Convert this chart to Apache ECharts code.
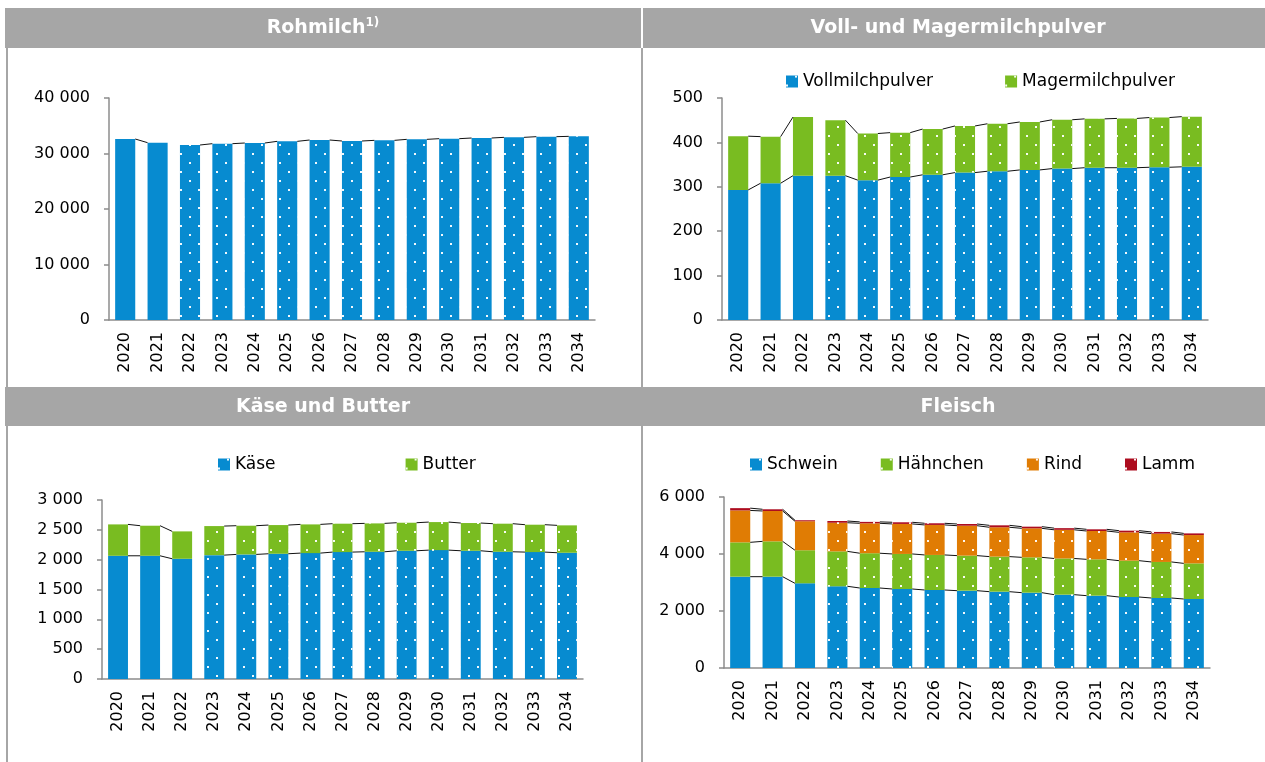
<!DOCTYPE html>
<html>
<head>
<meta charset="utf-8">
<script src="https://cdn.jsdelivr.net/npm/echarts@6/dist/echarts.min.js"></script>
<style>
  html, body { margin: 0; background: #fff; }
  #main { width: 1265px; height: 762px; }
</style>
</head>
<body>
<div id="main"></div>
<script>
// ~~ Data

const years = ['2020', '2021', '2022', '2023', '2024', '2025', '2026', '2027', '2028', '2029', '2030', '2031', '2032', '2033', '2034']

const rohmilch = [32610, 31950, 31530, 31770, 31890, 32190, 32430, 32250, 32370, 32550, 32670, 32790, 32910, 33030, 33090]

const vollmilchpulver = [293, 308, 325, 325, 315, 322, 327, 332, 335, 338, 341, 343, 343, 344, 345]
const magermilchpulver = [121, 105, 132, 125, 105, 100, 103, 105, 107, 108, 110, 110, 111, 112, 113]

const kaese = [2065, 2065, 2015, 2076, 2088, 2099, 2110, 2127, 2132, 2149, 2160, 2149, 2132, 2127, 2116]
const butter = [526, 504, 459, 487, 481, 481, 481, 476, 476, 470, 470, 465, 471, 459, 459]

const schwein = [3204, 3204, 2972, 2867, 2807, 2772, 2737, 2713, 2678, 2643, 2573, 2538, 2491, 2456, 2421]
const haehnchen = [1205, 1240, 1160, 1225, 1220, 1230, 1230, 1230, 1230, 1240, 1270, 1275, 1275, 1265, 1250]
const rind = [1120, 1065, 1017, 1005, 1050, 1053, 1053, 1050, 1030, 1018, 1006, 994, 994, 994, 994]
const lamm = [80, 60, 35, 60, 50, 58, 58, 60, 68, 58, 58, 59, 59, 59, 58]

// ~~ Styles

const BLUE = '#078bd0'
const GREEN = '#79bc21'
const ORANGE = '#e07c04'
const RED = '#ad0c1f'
const AXIS = '#8c8c8c'
const FONT = 'DejaVu Sans'
const BAR_GAP = 0.38

const dots = {
  symbol: 'rect',
  symbolSize: 1,
  color: 'rgba(255,255,255,0.95)',
  dashArrayX: [[2, 16], [0, 9, 2, 7]],
  dashArrayY: [2, 7],
  rotation: 0,
}

const panels = [
  {
    grid: { left: 109, top: 98, width: 486, height: 222 },
    max: 40000,
    interval: 10000,
    proj: 2,
    layers: [{ name: 'Rohmilch', data: rohmilch, color: BLUE }],
  },
  {
    grid: { left: 722, top: 98, width: 486, height: 222 },
    max: 500,
    interval: 100,
    proj: 3,
    legend: { left: 786, top: 73, itemGap: 72 },
    layers: [
      { name: 'Vollmilchpulver', data: vollmilchpulver, color: BLUE },
      { name: 'Magermilchpulver', data: magermilchpulver, color: GREEN },
    ],
  },
  {
    grid: { left: 102, top: 500, width: 481, height: 179 },
    max: 3000,
    interval: 500,
    proj: 3,
    legend: { left: 218, top: 456, itemGap: 130 },
    layers: [
      { name: 'Käse', data: kaese, color: BLUE },
      { name: 'Butter', data: butter, color: GREEN },
    ],
  },
  {
    grid: { left: 724, top: 497, width: 486, height: 171 },
    max: 6000,
    interval: 2000,
    proj: 3,
    legend: { left: 750, top: 456, itemGap: 43 },
    layers: [
      { name: 'Schwein', data: schwein, color: BLUE },
      { name: 'Hähnchen', data: haehnchen, color: GREEN },
      { name: 'Rind', data: rind, color: ORANGE },
      { name: 'Lamm', data: lamm, color: RED },
    ],
  },
]

const fmtNum = (v) => String(v).replace(/\B(?=(\d{3})+(?!\d))/g, ' ')

const renderConnector = function (params, api) {
  const i = api.value(0)
  const p0 = api.coord([i, api.value(1)])
  const p1 = api.coord([i + 1, api.value(2)])
  const half = (api.size([1, 0])[0] * (1 - BAR_GAP)) / 2
  return {
    type: 'line',
    shape: { x1: p0[0] + half, y1: p0[1], x2: p1[0] - half, y2: p1[1] },
    style: { stroke: '#111', lineWidth: 1 },
  }
}

const grids = []
const xAxes = []
const yAxes = []
const series = []
const legends = []

panels.forEach((p, pi) => {
  grids.push(p.grid)
  xAxes.push({
    type: 'category',
    gridIndex: pi,
    data: years,
    axisLine: { lineStyle: { color: AXIS, width: 1.5 } },
    axisTick: { length: 5, lineStyle: { color: AXIS, width: 1.5 } },
    axisLabel: { rotate: 90, margin: 12, color: '#000', fontSize: 16, fontFamily: FONT },
  })
  yAxes.push({
    type: 'value',
    gridIndex: pi,
    min: 0,
    max: p.max,
    interval: p.interval,
    splitLine: { show: false },
    axisLine: { show: true, lineStyle: { color: AXIS, width: 1.5 } },
    axisTick: { show: true, length: 5, lineStyle: { color: AXIS, width: 1.5 } },
    axisLabel: { margin: 19, color: '#000', fontSize: 16, fontFamily: FONT, formatter: fmtNum },
  })

  const cum = years.map(() => 0)
  p.layers.forEach((layer) => {
    series.push({
      name: layer.name,
      type: 'bar',
      xAxisIndex: pi,
      yAxisIndex: pi,
      stack: 'stack' + pi,
      barCategoryGap: BAR_GAP * 100 + '%',
      itemStyle: { color: layer.color },
      emphasis: { disabled: true },
      data: layer.data.map((v, i) => (i >= p.proj ? { value: v, itemStyle: { decal: dots } } : v)),
    })

    layer.data.forEach((v, i) => (cum[i] += v))
    const segs = []
    for (let i = 0; i < years.length - 1; i++) {
      if (i + 1 === p.proj) continue
      segs.push([i, cum[i], cum[i + 1]])
    }
    series.push({
      type: 'custom',
      xAxisIndex: pi,
      yAxisIndex: pi,
      silent: true,
      z: 3,
      encode: { x: 0, y: [1, 2] },
      renderItem: renderConnector,
      data: segs,
    })
  })

  if (p.legend) {
    legends.push({
      left: p.legend.left,
      top: p.legend.top,
      itemGap: p.legend.itemGap,
      padding: 0,
      itemWidth: 12,
      itemHeight: 12,
      icon: 'rect',
      selectedMode: false,
      textStyle: { color: '#000', fontSize: 17, fontFamily: FONT },
      data: p.layers.map((l) => ({ name: l.name, itemStyle: { decal: dots } })),
    })
  }
})

const headerText = (x, y, text) => ({
  type: 'text',
  x: x,
  y: y,
  z: 10,
  style: {
    text: text,
    align: 'center',
    verticalAlign: 'middle',
    fill: '#fff',
    fontSize: 19,
    fontWeight: 'bold',
    fontFamily: FONT,
    rich: {
      t: { fill: '#fff', fontSize: 19, fontWeight: 'bold', fontFamily: FONT },
      s: { fill: '#fff', fontSize: 12, fontWeight: 'bold', fontFamily: FONT, padding: [0, 0, 10, 0] },
    },
  },
})

const graphics = [
  { type: 'rect', shape: { x: 5, y: 8, width: 636, height: 40 }, style: { fill: '#a6a6a6' } },
  { type: 'rect', shape: { x: 643, y: 8, width: 622, height: 40 }, style: { fill: '#a6a6a6' } },
  { type: 'rect', shape: { x: 5, y: 387, width: 636, height: 39 }, style: { fill: '#a6a6a6' } },
  { type: 'rect', shape: { x: 643, y: 387, width: 622, height: 39 }, style: { fill: '#a6a6a6' } },
  { type: 'rect', shape: { x: 6, y: 48, width: 2, height: 714 }, style: { fill: '#a6a6a6' } },
  { type: 'rect', shape: { x: 641, y: 48, width: 2, height: 714 }, style: { fill: '#a6a6a6' } },
  headerText(323, 28, '{t|Rohmilch}{s|1)}'),
  headerText(958, 28, 'Voll- und Magermilchpulver'),
  headerText(323, 407, 'Käse und Butter'),
  headerText(958, 407, 'Fleisch'),
]

const chart = echarts.init(document.getElementById('main'))
chart.setOption({
  animation: false,
  textStyle: { fontFamily: FONT },
  grid: grids,
  xAxis: xAxes,
  yAxis: yAxes,
  legend: legends,
  graphic: graphics,
  series: series,
})
</script>
</body>
</html>
